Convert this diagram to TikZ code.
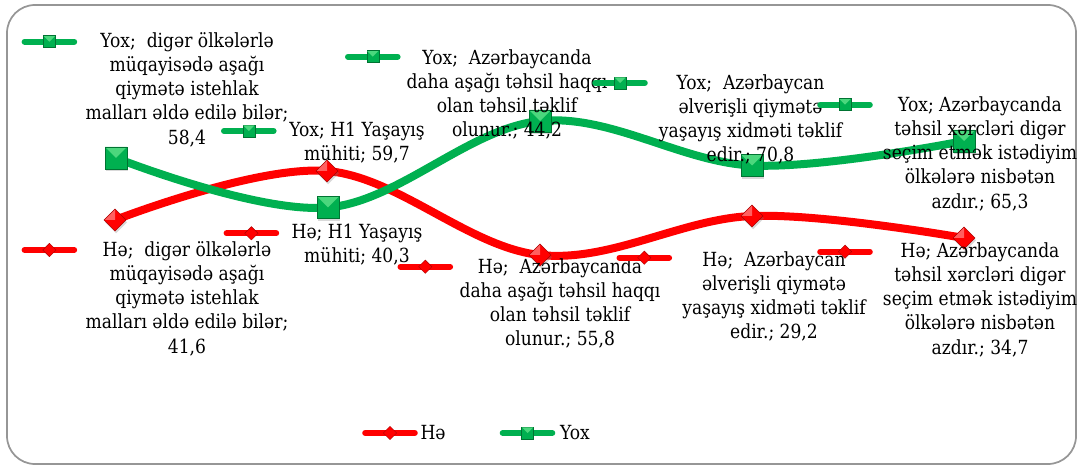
\documentclass[tikz,border=0pt]{standalone}
\usepackage{fontspec}
\setmainfont{DejaVu Serif}
\newfontfamily\lblfont[FakeStretch=0.88]{DejaVu Serif}
\usetikzlibrary{positioning,shapes.geometric,shadows}
\pgfdeclarelayer{background}
\pgfsetlayers{background,main}
\frenchspacing

\definecolor{yoxgreen}{RGB}{0,176,80}
\definecolor{yoxdark}{RGB}{0,115,50}
\definecolor{yoxlight}{RGB}{75,215,125}
\definecolor{hered}{RGB}{255,0,0}
\definecolor{hedark}{RGB}{170,0,0}
\definecolor{helight}{RGB}{255,95,95}
\definecolor{framegray}{RGB}{150,150,150}

\tikzset{
	framebox/.style={draw=framegray, line width=1.3pt, rounded corners=21pt},
	heline/.style={hered, line width=6pt},
	yoxline/.style={yoxgreen, line width=6pt},
	markshadow/.style={drop shadow={opacity=0.3, shadow xshift=0.8pt, shadow yshift=-1.8pt}},
	hemark/.style={diamond, minimum size=16.5pt, inner sep=0pt, fill=hered, draw=hedark, line width=0.4pt, markshadow,
		path picture={\fill[helight] (path picture bounding box.north) -- (path picture bounding box.west) -- (path picture bounding box.center) -- cycle;}},
	yoxmark/.style={rectangle, minimum size=16.5pt, inner sep=0pt, fill=yoxgreen, draw=yoxdark, line width=0.4pt, markshadow,
		path picture={\fill[yoxlight] (path picture bounding box.north west) -- (path picture bounding box.north east) -- (path picture bounding box.center) -- cycle;}},
	hekey/.style={rectangle, minimum width=42pt, minimum height=11pt, inner sep=0pt,
		path picture={
			\draw[hered, line width=4.5pt, line cap=round] ([xshift=2.4pt]path picture bounding box.west) -- ([xshift=-2.4pt]path picture bounding box.east);
			\filldraw[fill=hered, draw=hedark, line width=0.3pt] ([xshift=-5pt]path picture bounding box.center) -- ([yshift=5pt]path picture bounding box.center) -- ([xshift=5pt]path picture bounding box.center) -- ([yshift=-5pt]path picture bounding box.center) -- cycle;}},
	yoxkey/.style={rectangle, minimum width=42pt, minimum height=11pt, inner sep=0pt,
		path picture={
			\draw[yoxgreen, line width=4.5pt, line cap=round] ([xshift=2.4pt]path picture bounding box.west) -- ([xshift=-2.4pt]path picture bounding box.east);
			\filldraw[fill=yoxgreen, draw=yoxdark, line width=0.3pt] ([shift={(-4.5pt,-4.5pt)}]path picture bounding box.center) rectangle ([shift={(4.5pt,4.5pt)}]path picture bounding box.center);
			\fill[yoxlight] ([shift={(-4.2pt,4.2pt)}]path picture bounding box.center) -- ([shift={(4.2pt,4.2pt)}]path picture bounding box.center) -- (path picture bounding box.center) -- cycle;}},
	lbl/.style={align=center, inner sep=0pt, anchor=north, font=\lblfont\fontsize{14.6pt}{18.2pt}\selectfont, execute at begin node=\strut},
	legtxt/.style={inner sep=0pt, font=\lblfont\fontsize{14.6pt}{18.2pt}\selectfont}
}

\begin{document}
\begin{tikzpicture}[x=0.75pt, y=-0.75pt]
	\useasboundingbox (0,0) rectangle (1079,466);
	\draw [framebox] (7,5) rectangle (1076,464);

	\node (h1) [hemark] at (115,220) {};
	\node (h2) [hemark] at (327,171) {};
	\node (h3) [hemark] at (540,255) {};
	\node (h4) [hemark] at (752,216) {};
	\node (h5) [hemark] at (964,238) {};
	\node (g1) [yoxmark] at (116,158) {};
	\node (g2) [yoxmark] at (328,207.5) {};
	\node (g3) [yoxmark] at (540,121) {};
	\node (g4) [yoxmark] at (752,165.5) {};
	\node (g5) [yoxmark] at (964,141) {};

	\begin{pgfonlayer}{background}
		\draw [heline] plot [smooth, tension=0.6] coordinates {(h1.center) (h2.center) (h3.center) (h4.center) (h5.center)};
		\draw [yoxline] plot [smooth, tension=0.6] coordinates {(g1.center) (g2.center) (g3.center) (g4.center) (g5.center)};
	\end{pgfonlayer}

	\node (gl1) [lbl] at (187,32) {Yox;\ \ digər ölkələrlə\\müqayisədə aşağı\\qiymətə istehlak\\malları əldə edilə bilər;\\58,4};
	\node (gk1) [yoxkey] at (49.4,41.7) {};
	\node (gl2) [lbl] at (357,122) {Yox; H1 Yaşayış\\mühiti; 59,7};
	\node (gk2) [yoxkey] at (248.8,131) {};
	\node (gl3) [lbl] at (507,49) {Yox;\ \ Azərbaycanda\\daha aşağı təhsil haqqı\\olan təhsil təklif\\olunur.; 44,2};
	\node (gk3) [yoxkey] at (372.8,56.7) {};
	\node (gl4) [lbl] at (750.5,74) {Yox;\ \ Azərbaycan\\əlverişli qiymətə\\yaşayış xidməti təklif\\edir.; 70,8};
	\node (gk4) [yoxkey] at (620,83) {};
	\node (gl5) [lbl] at (980,96) {Yox; Azərbaycanda\\təhsil xərcləri digər\\seçim etmək istədiyim\\ölkələrə nisbətən\\azdır.; 65,3};
	\node (gk5) [yoxkey] at (845,104.7) {};

	\node (hl1) [lbl] at (187,241) {Hə;\ \ digər ölkələrlə\\müqayisədə aşağı\\qiymətə istehlak\\malları əldə edilə bilər;\\41,6};
	\node (hk1) [hekey] at (49.4,250) {};
	\node (hl2) [lbl] at (357,224) {Hə; H1 Yaşayış\\mühiti; 40,3};
	\node (hk2) [hekey] at (251.4,233.3) {};
	\node (hl3) [lbl] at (560,258) {Hə;\ \ Azərbaycanda\\daha aşağı təhsil haqqı\\olan təhsil təklif\\olunur.; 55,8};
	\node (hk3) [hekey] at (425.3,266.7) {};
	\node (hl4) [lbl] at (774,251) {Hə;\ \ Azərbaycan\\əlverişli qiymətə\\yaşayış xidməti təklif\\edir.; 29,2};
	\node (hk4) [hekey] at (644.3,257.7) {};
	\node (hl5) [lbl] at (980,242) {Hə; Azərbaycanda\\təhsil xərcləri digər\\seçim etmək istədiyim\\ölkələrə nisbətən\\azdır.; 34,7};
	\node (hk5) [hekey] at (845,251.7) {};

	\node (hekeyleg) [hekey] at (390,433) {};
	\node (heleg) [legtxt, right=1.5pt of hekeyleg] {Hə};
	\node (yoxkeyleg) [yoxkey] at (527.5,433) {};
	\node (yoxleg) [legtxt, right=3pt of yoxkeyleg] {Yox};
\end{tikzpicture}
\end{document}
